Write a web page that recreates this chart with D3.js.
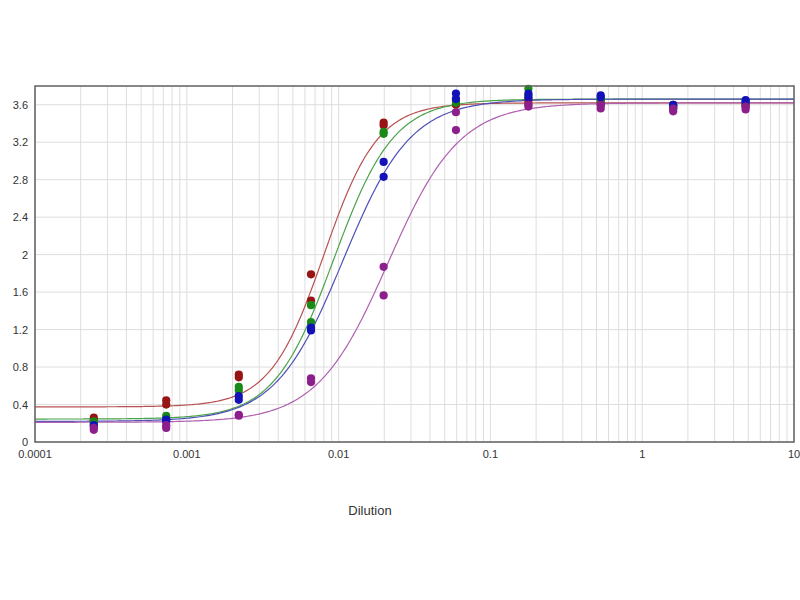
<!DOCTYPE html>
<html>
<head>
<meta charset="utf-8">
<script src="https://cdn.jsdelivr.net/npm/d3@7"></script>
<style>
  body { margin: 0; background: #fff; }
  svg { font-family: "Liberation Sans", Arial, sans-serif; }
  .tick-label { font-size: 11px; fill: #333; }
</style>
</head>
<body>
<svg id="chart" width="800" height="600"></svg>
<script>
// Dilutions (x) - serial 1:3
const dilutions = [0.000244, 0.000732, 0.0022, 0.00658, 0.0198, 0.0593, 0.178, 0.533, 1.6, 4.8];

// Replicate readings for each sample
const redRep1 = [0.26, 0.445, 0.72, 1.79, 3.41, 3.64, 3.66, 3.63, 3.60, 3.60];
const redRep2 = [0.23, 0.40, 0.69, 1.51, 3.38, 3.60, 3.62, 3.60, 3.56, 3.58];
const greenRep1 = [0.22, 0.28, 0.59, 1.46, 3.31, 3.66, 3.77, 3.66, 3.59, 3.62];
const greenRep2 = [0.20, 0.25, 0.55, 1.28, 3.29, 3.62, 3.70, 3.64, 3.57, 3.60];
const blueRep1 = [0.18, 0.24, 0.49, 1.22, 2.99, 3.72, 3.72, 3.70, 3.60, 3.65];
const blueRep2 = [0.17, 0.22, 0.45, 1.19, 2.83, 3.66, 3.68, 3.68, 3.58, 3.63];
const purpleRep1 = [0.15, 0.18, 0.29, 0.68, 1.87, 3.52, 3.60, 3.60, 3.56, 3.58];
const purpleRep2 = [0.13, 0.15, 0.28, 0.64, 1.565, 3.33, 3.58, 3.56, 3.53, 3.55];

// 4PL fit parameters: [bottom, top, ec50, hill]
const redFit = [0.375, 3.62, 0.0080, 2.45];
const greenFit = [0.245, 3.66, 0.0093, 2.2];
const blueFit = [0.22, 3.66, 0.0107, 1.95];
const purpleFit = [0.21, 3.62, 0.0212, 1.85];

const xTickValues = [0.0001, 0.001, 0.01, 0.1, 1, 10];
const xTickLabels = ["0.0001", "0.001", "0.01", "0.1", "1", "10"];
const yTickValues = [0, 0.4, 0.8, 1.2, 1.6, 2, 2.4, 2.8, 3.2, 3.6];
const yTickLabels = ["0", "0.4", "0.8", "1.2", "1.6", "2", "2.4", "2.8", "3.2", "3.6"];

const series = [
  { reps: [redRep1, redRep2], fit: redFit, point: "#981414", line: "#b85252" },
  { reps: [greenRep1, greenRep2], fit: greenFit, point: "#178a17", line: "#4aa34a" },
  { reps: [blueRep1, blueRep2], fit: blueFit, point: "#1212b8", line: "#5050b8" },
  { reps: [purpleRep1, purpleRep2], fit: purpleFit, point: "#8c1f8c", line: "#b060b0" },
];

const plotLeft = 35, plotRight = 794, plotTop = 86, plotBottom = 442;

const svg = d3.select("#chart");

const x = d3.scaleLog().domain([0.0001, 10]).range([plotLeft, plotRight]);
const y = d3.scaleLinear().domain([0, 3.8]).range([plotBottom, plotTop]);

// grille verticale (majeure + mineure)
svg.append("g")
  .selectAll("line")
  .data(x.ticks())
  .enter()
  .append("line")
  .attr("x1", (d) => x(d))
  .attr("x2", (d) => x(d))
  .attr("y1", plotTop)
  .attr("y2", plotBottom)
  .attr("stroke", "#dedede")
  .attr("stroke-width", 1);

// grille horizontale
svg.append("g")
  .selectAll("line")
  .data(yTickValues)
  .enter()
  .append("line")
  .attr("x1", plotLeft)
  .attr("x2", plotRight)
  .attr("y1", (d) => y(d))
  .attr("y2", (d) => y(d))
  .attr("stroke", "#dedede")
  .attr("stroke-width", 1);

// courbes 4PL
function fourPL(p, v) {
  return p[0] + (p[1] - p[0]) / (1 + Math.pow(p[2] / v, p[3]));
}

const samples = d3.range(0, 401).map((i) => Math.pow(10, -4 + (5 * i) / 400));

const line = d3
  .line()
  .x((d) => x(d[0]))
  .y((d) => y(d[1]));

series.forEach((s) => {
  svg
    .append("path")
    .datum(samples.map((v) => [v, fourPL(s.fit, v)]))
    .attr("fill", "none")
    .attr("stroke", s.line)
    .attr("stroke-width", 1.2)
    .attr("d", line);
});

// points
series.forEach((s) => {
  s.reps.forEach((rep) => {
    svg
      .append("g")
      .selectAll("circle")
      .data(rep.map((v, i) => [dilutions[i], v]))
      .enter()
      .append("circle")
      .attr("cx", (d) => x(d[0]))
      .attr("cy", (d) => y(d[1]))
      .attr("r", 4.1)
      .attr("fill", s.point);
  });
});

// cadre
svg
  .append("rect")
  .attr("x", plotLeft)
  .attr("y", plotTop)
  .attr("width", plotRight - plotLeft)
  .attr("height", plotBottom - plotTop)
  .attr("fill", "none")
  .attr("stroke", "#606060")
  .attr("stroke-width", 1.5);

// labels axe Y
svg
  .append("g")
  .selectAll("text")
  .data(yTickValues)
  .enter()
  .append("text")
  .attr("class", "tick-label")
  .attr("x", 28)
  .attr("y", (d) => y(d) + 4)
  .attr("text-anchor", "end")
  .text((d, i) => yTickLabels[i]);

// labels axe X
svg
  .append("g")
  .selectAll("text")
  .data(xTickValues)
  .enter()
  .append("text")
  .attr("class", "tick-label")
  .attr("x", (d) => x(d))
  .attr("y", 458)
  .attr("text-anchor", "middle")
  .text((d, i) => xTickLabels[i]);

svg
  .append("text")
  .attr("x", 370)
  .attr("y", 515)
  .attr("text-anchor", "middle")
  .attr("font-size", 13)
  .attr("fill", "#333")
  .text("Dilution");
</script>
</body>
</html>
